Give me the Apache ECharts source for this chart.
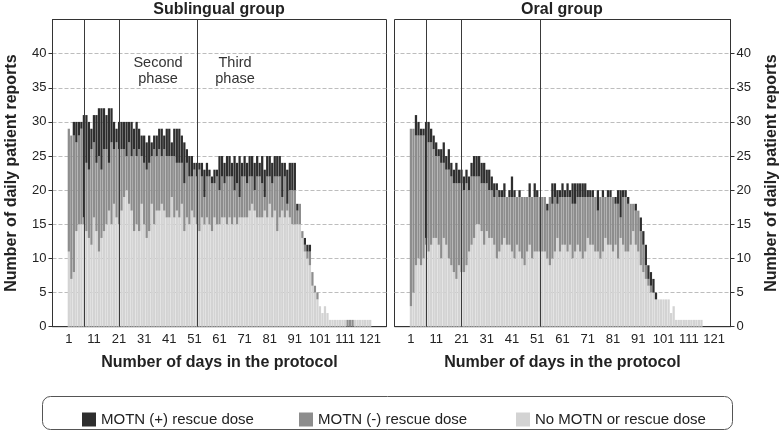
<!DOCTYPE html>
<html>
<head>
<meta charset="utf-8">
<script src="https://cdn.jsdelivr.net/npm/echarts@6/dist/echarts.min.js"></script>
<style>html,body{margin:0;padding:0;background:#fff}#c{width:783px;height:431px}</style>
</head>
<body>
<div id="c"></div>
<script>
// Sublingual group, days 1..121
const subNoMotn = [11,7,8,14,15,15,15,14,13,12,16,14,11,13,14,15,17,15,18,16,15,17,19,20,18,17,14,15,14,18,15,13,14,18,15,17,17,18,17,16,16,19,16,17,16,18,14,16,15,17,16,15,14,16,15,16,15,14,16,15,15,16,16,15,16,15,16,15,16,16,16,16,17,18,17,16,16,16,17,16,18,16,17,14,16,17,16,17,16,15,15,15,15,13,11,10,9,6,5,4,3,2,3,2,1,1,1,1,1,1,1,0,0,0,1,1,1,1,1,1,1];
const subMotnNeg = [18,21,20,13,13,14,1,10,10,14,11,10,14,10,12,11,7,12,8,11,11,9,7,5,9,8,12,10,12,7,9,10,10,7,11,8,9,7,9,9,9,6,9,7,8,6,7,8,7,5,7,7,9,6,4,6,7,7,5,7,5,6,5,7,6,7,4,6,3,6,6,5,5,4,3,6,6,5,2,6,4,5,5,8,6,2,6,1,4,5,5,2,3,1,1,1,2,2,1,1,0,0,0,0,0,0,0,0,0,0,0,1,1,1,0,0,0,0,0,0,0];
const subMotnPos = [0,0,2,3,2,1,15,7,7,3,4,7,7,9,6,5,8,5,4,2,4,4,4,5,3,5,3,5,3,3,4,4,4,2,2,3,3,4,2,4,4,2,4,5,5,4,6,2,3,3,1,2,1,2,4,2,1,1,2,1,5,3,3,3,3,2,5,3,6,2,3,3,3,3,4,3,2,4,4,3,3,3,3,3,3,5,2,5,4,4,4,1,0,0,1,1,1,0,0,0,0,0,0,0,0,0,0,0,0,0,0,0,0,0,0,0,0,0,0,0,0];
// Oral group, days 1..116
const oralNoMotn = [3,5,9,10,9,10,12,11,12,13,13,12,10,13,12,10,9,8,7,9,8,8,9,11,12,13,15,15,14,12,14,13,13,12,10,11,12,13,12,12,11,10,12,11,10,9,11,12,10,11,11,11,11,11,10,9,10,11,13,11,12,12,11,12,10,11,12,11,10,11,13,12,12,11,11,10,11,13,12,12,11,12,10,13,12,11,11,12,14,12,11,9,8,7,6,5,5,4,4,4,4,4,4,2,3,1,1,1,1,1,1,1,1,1,1,1];
const oralMotnNeg = [26,24,19,18,19,18,1,16,15,13,12,13,14,11,11,13,13,13,14,12,13,12,12,9,10,9,7,7,7,9,7,7,7,7,10,8,7,6,7,7,8,9,7,8,9,10,8,7,9,8,8,8,8,8,7,10,8,8,5,8,7,7,8,7,8,7,7,8,9,8,6,7,7,8,6,9,8,6,7,7,8,6,8,3,7,8,7,6,4,5,6,5,4,2,1,1,0,0,0,0,0,0,0,0,0,0,0,0,0,0,0,0,0,0,0,0];
const oralMotnPos = [0,0,3,2,1,1,17,3,2,2,2,1,2,3,2,3,2,2,3,2,2,2,2,2,2,3,3,3,3,3,2,3,2,2,1,1,1,2,0,1,3,1,0,1,0,0,0,2,0,2,1,0,0,0,1,0,3,2,2,1,2,1,2,1,3,3,2,2,2,2,1,1,1,0,3,0,1,0,1,1,0,1,2,4,1,1,1,0,0,1,0,2,2,3,2,2,2,1,0,0,0,0,0,0,0,0,0,0,0,0,0,0,0,0,0,0];

const xTicks = [1,11,21,31,41,51,61,71,81,91,101,111,121];
const yTicks = [0,5,10,15,20,25,30,35,40];
const phaseDays = [7,21,52];
const seriesNames = ['MOTN (+) rescue dose','MOTN (-) rescue dose','No MOTN or rescue dose'];

const FONT = '"Liberation Sans", Arial, Helvetica, sans-serif';
const C_DARK = '#2e2e2e', C_MID = '#8d8d8d', C_LIGHT = '#d3d3d3';

// day categories (axis range incl. empty margin days)
const dayCats = [];
for (let d = -5; d <= 127; d++) dayCats.push(String(d));
const onDays = arr => dayCats.map(c => { const d = +c; return (d >= 1 && d <= arr.length) ? arr[d - 1] : null; });

function xAxisCfg(gi) {
  return {
    type: 'category', gridIndex: gi, data: dayCats, boundaryGap: true,
    axisLine: {show: true, lineStyle: {color: '#333'}},
    axisTick: {show: false},
    splitLine: {show: false},
    axisLabel: {interval: (i, v) => xTicks.indexOf(+v) >= 0, color: '#222', fontSize: 13, fontFamily: FONT, margin: 6},
    name: 'Number of days in the protocol', nameLocation: 'middle', nameGap: 28,
    nameTextStyle: {fontSize: 16, fontWeight: 'bold', color: '#222', fontFamily: FONT}
  };
}
function yAxisCfg(gi, pos) {
  return {
    type: 'value', gridIndex: gi, min: 0, max: 45, interval: 5, position: pos,
    axisLine: {show: true, onZero: false, lineStyle: {color: '#333'}},
    axisTick: {show: true, length: 4, customValues: yTicks, lineStyle: {color: '#333'}},
    axisLabel: {customValues: yTicks, color: '#222', fontSize: 13, fontFamily: FONT, margin: 6},
    splitLine: {show: true, lineStyle: {color: '#bdbdbd', type: [4, 2], width: 1}},
    name: 'Number of daily patient reports', nameLocation: 'middle', nameGap: 33,
    nameTextStyle: {fontSize: 16, fontWeight: 'bold', color: '#222', fontFamily: FONT}
  };
}
function barSeries(name, data, gi, stack, color, withLines) {
  const s = {
    name, type: 'bar', stack, xAxisIndex: gi, yAxisIndex: gi,
    data: onDays(data), barWidth: '90%', itemStyle: {color}, silent: true, animation: false
  };
  if (withLines) {
    s.markLine = {
      symbol: 'none', silent: true, label: {show: false}, animation: false,
      lineStyle: {color: '#3a3a3a', width: 1, type: 'solid'},
      data: phaseDays.map(d => ({xAxis: String(d)}))
    };
  }
  return s;
}

const chart = echarts.init(document.getElementById('c'), null, {renderer: 'canvas'});
chart.setOption({
  animation: false,
  backgroundColor: '#fff',
  grid: [
    {left: 52.5, top: 19.5, width: 334, height: 307.2, show: true, borderColor: '#333', borderWidth: 1, backgroundColor: 'transparent'},
    {left: 394.5, top: 19.5, width: 336, height: 307.2, show: true, borderColor: '#333', borderWidth: 1, backgroundColor: 'transparent'}
  ],
  xAxis: [xAxisCfg(0), xAxisCfg(1)],
  yAxis: [yAxisCfg(0, 'left'), yAxisCfg(1, 'right')],
  legend: [
    {data: [{name: seriesNames[0]}], left: 77, top: 407, itemWidth: 14, itemHeight: 14, itemGap: 0, icon: 'rect',
     textStyle: {fontSize: 15, color: '#222', fontFamily: FONT}, selectedMode: false},
    {data: [{name: seriesNames[1]}], left: 294, top: 407, itemWidth: 14, itemHeight: 14, itemGap: 0, icon: 'rect',
     textStyle: {fontSize: 15, color: '#222', fontFamily: FONT}, selectedMode: false},
    {data: [{name: seriesNames[2]}], left: 511, top: 407, itemWidth: 14, itemHeight: 14, itemGap: 0, icon: 'rect',
     textStyle: {fontSize: 15, color: '#222', fontFamily: FONT}, selectedMode: false}
  ],
  graphic: [
    {type: 'rect', z: -1, shape: {x: 42.5, y: 396.5, width: 690, height: 33, r: 8},
     style: {fill: '#fff', stroke: '#555', lineWidth: 1}},
    {type: 'text', x: 219, y: 10, style: {text: 'Sublingual group', align: 'center', verticalAlign: 'middle',
     fontSize: 16, fontWeight: 'bold', fontFamily: FONT, fill: '#222'}},
    {type: 'text', x: 562, y: 10, style: {text: 'Oral group', align: 'center', verticalAlign: 'middle',
     fontSize: 16, fontWeight: 'bold', fontFamily: FONT, fill: '#222'}},
    {type: 'text', x: 158, y: 71, style: {text: 'Second\nphase', align: 'center', verticalAlign: 'middle',
     fontSize: 14.5, lineHeight: 16, fontFamily: FONT, fill: '#333'}},
    {type: 'text', x: 235, y: 71, style: {text: 'Third\nphase', align: 'center', verticalAlign: 'middle',
     fontSize: 14.5, lineHeight: 16, fontFamily: FONT, fill: '#333'}}
  ],
  series: [
    barSeries(seriesNames[2], subNoMotn, 0, 'sub', C_LIGHT, true),
    barSeries(seriesNames[1], subMotnNeg, 0, 'sub', C_MID, false),
    barSeries(seriesNames[0], subMotnPos, 0, 'sub', C_DARK, false),
    barSeries(seriesNames[2], oralNoMotn, 1, 'oral', C_LIGHT, true),
    barSeries(seriesNames[1], oralMotnNeg, 1, 'oral', C_MID, false),
    barSeries(seriesNames[0], oralMotnPos, 1, 'oral', C_DARK, false)
  ]
});
</script>
</body>
</html>
